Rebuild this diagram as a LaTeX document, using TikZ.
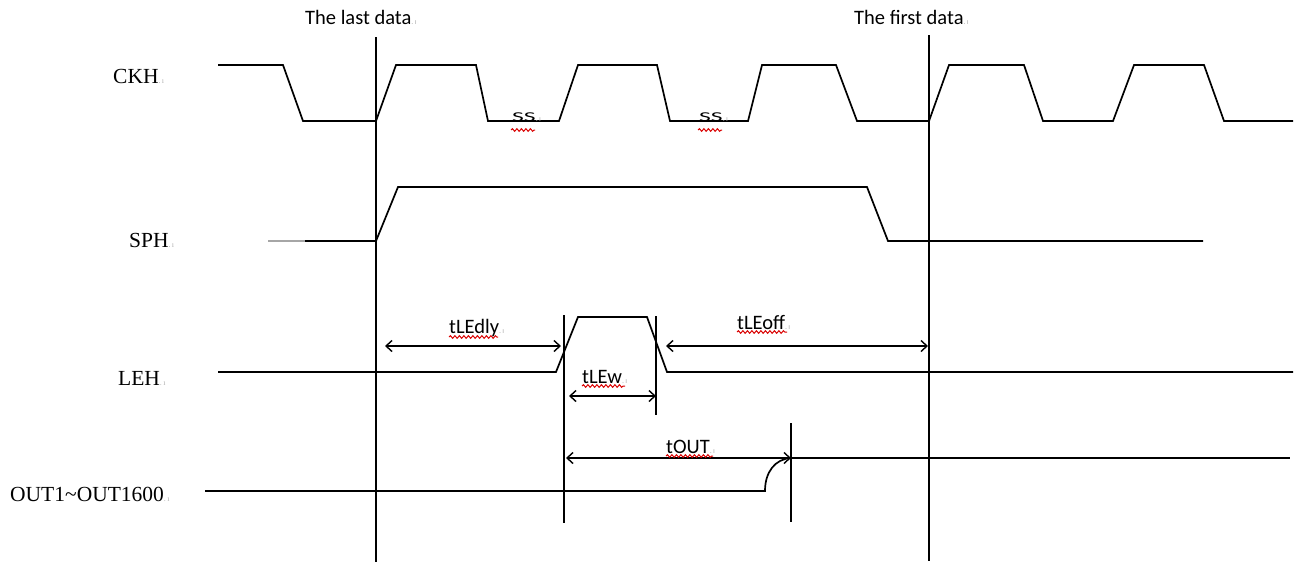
\documentclass[tikz,border=0pt]{standalone}
\usepackage{fontspec}
\setmainfont{Liberation Serif}
\newfontfamily\calfont{Carlito}
\usetikzlibrary{arrows.meta,decorations.pathmorphing}
\newcommand\wmk{\textcolor{gray!60}{\fontsize{8}{8}\selectfont.\,ı}}
\begin{document}
\begin{tikzpicture}[x=1pt,y=-1pt,
  wave/.style={line width=1.7pt, line join=miter},
  vline/.style={line width=1.7pt},
  dim/.style={line width=1.4pt, {Straight Barb[length=6pt,width=11pt]}-{Straight Barb[length=6pt,width=11pt]}},
  serif/.style={font=\fontsize{21.5}{24}\selectfont, anchor=base west, inner sep=0pt},
  sans/.style={font=\calfont\fontsize{20.5}{24}\selectfont, anchor=base west, inner sep=0pt},
  spell/.style={draw=red!85!black, line width=1pt, decorate, decoration={snake, amplitude=1.3pt, segment length=4.5pt}}]
\useasboundingbox (0,0) rectangle (1301,563);

% vertical reference lines
\coordinate (lastT) at (376,37);  \coordinate (lastB) at (376,562);
\coordinate (firstT) at (929,35); \coordinate (firstB) at (929,561);
\draw[vline] (lastT) -- (lastB);
\draw[vline] (firstT) -- (firstB);
\coordinate (le1T) at (564,315); \coordinate (le1B) at (564,523);
\coordinate (le2T) at (656,316); \coordinate (le2B) at (656,415);
\coordinate (outT) at (791,423); \coordinate (outB) at (791,522);
\draw[vline] (le1T) -- (le1B);
\draw[vline] (le2T) -- (le2B);
\draw[vline] (outT) -- (outB);

% top labels
\node[sans] (lastlbl) at (305,24) {The last data\wmk};
\node[sans] (firstlbl) at (854,24) {The first data\wmk};

% signal labels
\node[serif] (ckh) at (113,83) {CKH\wmk};
\node[serif] (sph) at (129,247) {SPH\wmk};
\node[serif] (leh) at (118,385) {LEH\wmk};
\node[serif] (out) at (10,501) {OUT1\char`~OUT1600\wmk};

% CKH
\draw[wave] (218,65) -- (283,65) -- (303,121) -- (376,121) -- (396,65) -- (476,65)
  -- (488,121) -- (559,121) -- (578,65) -- (657,65) -- (670,121) -- (748,121)
  -- (762,65) -- (836,65) -- (857,121) -- (929,121) -- (949,65) -- (1024,65)
  -- (1043,121) -- (1113,121) -- (1134,65) -- (1204,65) -- (1224,121) -- (1293,121);
\node[sans] (ss1) at (512,121) {\scalebox{1.25}[0.66]{SS}\wmk};
\node[sans] (ss2) at (699,121) {\scalebox{1.25}[0.66]{SS}\wmk};
\draw[spell] (511,130) -- (535,130);
\draw[spell] (698,130) -- (722,130);

% SPH
\draw[wave, gray!70] (268,241) -- (305,241);
\draw[wave] (305,241) -- (376,241) -- (398,187) -- (867,187) -- (888,241) -- (1203,241);

% LEH
\draw[wave] (218,372) -- (556,372) -- (578,317) -- (647,317) -- (667,372) -- (1293,372);

% OUT
\draw[wave] (205,491) -- (765,491) .. controls (765,472) and (775,459) .. (791,458);
\draw[wave] (791,458) -- (1290,458);

% dimension arrows
\coordinate (d1a) at (385,346); \coordinate (d1b) at (561,346);
\coordinate (d2a) at (569,396); \coordinate (d2b) at (656,396);
\coordinate (d3a) at (666,346); \coordinate (d3b) at (928,346);
\coordinate (d4a) at (566,458); \coordinate (d4b) at (791,458);
\draw[dim] (d1a) -- (d1b);
\draw[dim] (d2a) -- (d2b);
\draw[dim] (d3a) -- (d3b);
\draw[dim] (d4a) -- (d4b);

\node[sans] (tledly) at (449,333) {tLEdly\wmk};
\node[sans] (tlew) at (582,383) {tLEw\wmk};
\node[sans] (tleoff) at (737,329) {tLEoff\wmk};
\node[sans] (tout) at (666,453) {tOUT\wmk};
\draw[spell] (449,337) -- (498,337);
\draw[spell] (582,386) -- (625,386);
\draw[spell] (737,332) -- (787,332);
\draw[spell] (666,456) -- (713,456);
\end{tikzpicture}
\end{document}
